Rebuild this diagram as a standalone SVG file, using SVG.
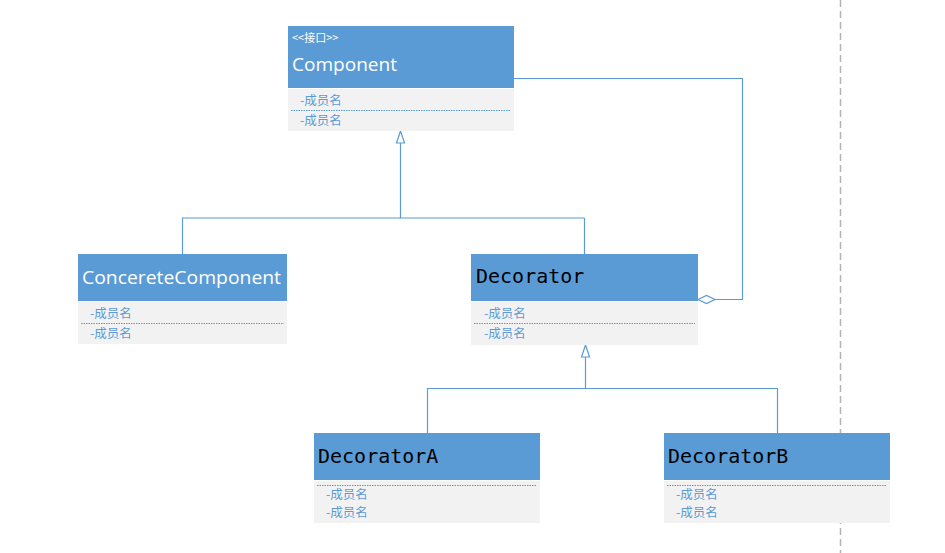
<svg xmlns="http://www.w3.org/2000/svg" width="945" height="553" viewBox="0 0 945 553">
<style>
.hd{fill:#5b9bd5}
.bd{fill:#f2f2f2}
.sep{stroke:#5b9bd5;stroke-width:1;stroke-dasharray:1.5 1}
.mem{font-family:"Noto Sans CJK SC","Noto Sans",sans-serif;font-size:12.5px;fill:#5b9bd5}
.ttl{font-family:"Open Sans","Noto Sans",sans-serif;font-size:19px;fill:#ffffff}
.mono{font-family:"DejaVu Sans Mono","Liberation Mono",monospace;font-size:20px;fill:#000000}
.st{font-family:"Noto Sans CJK SC","Noto Sans",sans-serif;font-size:11px;fill:#ffffff}
.ln{fill:none;stroke:#5b9bd5;stroke-width:1.2}
.arr{fill:#ffffff;stroke:#5b9bd5;stroke-width:1.2}
</style>
<rect x="0" y="0" width="945" height="553" fill="#ffffff"/>
<line x1="840.5" y1="0" x2="840.5" y2="553" stroke="#b4b4b4" stroke-width="1.5" stroke-dasharray="7 4"/>
<g id="connectors">
<polyline class="ln" points="400.5,143 400.5,218 182.5,218 182.5,254"/>
<line class="ln" x1="400.5" y1="218" x2="584.5" y2="218"/>
<line class="ln" x1="584.5" y1="218" x2="584.5" y2="254"/>
<polygon class="arr" points="400.5,131 396.5,143 404.5,143"/>
<polyline class="ln" points="585.5,357 585.5,388.5 427.5,388.5 427.5,433"/>
<polyline class="ln" points="585.5,388.5 777.5,388.5 777.5,433"/>
<polygon class="arr" points="585.5,345 581.5,357 589.5,357"/>
<polyline class="ln" points="514,78.5 742.5,78.5 742.5,299.5 715,299.5"/>
<polygon class="arr" points="698,299.5 706.5,295.5 715,299.5 706.5,303.5"/>
</g>
<g id="Component">
<rect class="hd" x="288" y="26" width="226" height="62"/>
<rect class="bd" x="288" y="89" width="226" height="42"/>
<text class="st" x="292" y="42">&lt;&lt;接口&gt;&gt;</text>
<text class="ttl" x="292" y="71" textLength="105" lengthAdjust="spacingAndGlyphs">Component</text>
<line class="sep" x1="291" y1="110.5" x2="511" y2="110.5"/>
<text class="mem" x="300" y="105">-成员名</text>
<text class="mem" x="300" y="125">-成员名</text>
</g>
<g id="ConcereteComponent">
<rect class="hd" x="78" y="254" width="209" height="47"/>
<rect class="bd" x="78" y="302" width="209" height="42"/>
<text class="ttl" x="82" y="284" textLength="199" lengthAdjust="spacingAndGlyphs">ConcereteComponent</text>
<line class="sep" x1="81" y1="323.5" x2="284" y2="323.5"/>
<text class="mem" x="90" y="318">-成员名</text>
<text class="mem" x="90" y="338">-成员名</text>
</g>
<g id="Decorator">
<rect class="hd" x="471" y="254" width="227" height="47"/>
<rect class="bd" x="471" y="302" width="227" height="43"/>
<text class="mono" x="476" y="283">Decorator</text>
<line class="sep" x1="474" y1="323.5" x2="695" y2="323.5"/>
<text class="mem" x="484" y="318">-成员名</text>
<text class="mem" x="484" y="338">-成员名</text>
</g>
<g id="DecoratorA">
<rect class="hd" x="314" y="433" width="226" height="47"/>
<rect class="bd" x="314" y="481" width="226" height="42"/>
<text class="mono" x="318" y="463">DecoratorA</text>
<line class="sep" x1="317" y1="485.5" x2="537" y2="485.5"/>
<text class="mem" x="326" y="499">-成员名</text>
<text class="mem" x="326" y="517">-成员名</text>
</g>
<g id="DecoratorB">
<rect class="hd" x="664" y="433" width="226" height="47"/>
<rect class="bd" x="664" y="481" width="226" height="42"/>
<text class="mono" x="668" y="463">DecoratorB</text>
<line class="sep" x1="667" y1="485.5" x2="887" y2="485.5"/>
<text class="mem" x="676" y="499">-成员名</text>
<text class="mem" x="676" y="517">-成员名</text>
</g>
</svg>
